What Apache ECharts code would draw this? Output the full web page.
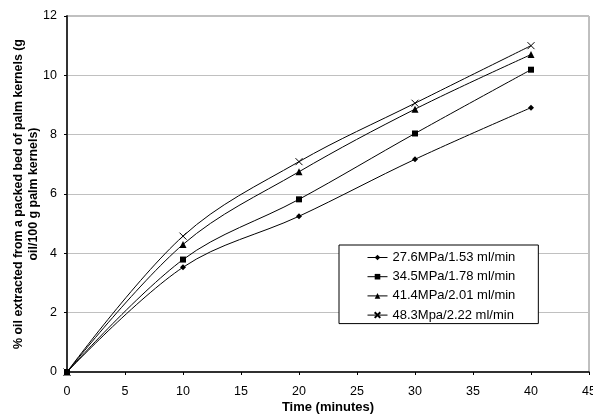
<!DOCTYPE html>
<html>
<head>
<meta charset="utf-8">
<script src="https://cdn.jsdelivr.net/npm/echarts@6/dist/echarts.min.js"></script>
<style>
html,body{margin:0;padding:0;background:#fff;}
#c{width:593px;height:414px;}
</style>
</head>
<body>
<div id="c"></div>
<script>
var times = [0, 10, 20, 30, 40];
var seriesNames = ['27.6MPa/1.53 ml/min', '34.5MPa/1.78 ml/min', '41.4MPa/2.01 ml/min', '48.3Mpa/2.22 ml/min'];
var s1 = [0, 3.53, 5.25, 7.17, 8.91];
var s2 = [0, 3.79, 5.82, 8.04, 10.19];
var s3 = [0, 4.30, 6.75, 8.86, 10.70];
var s4 = [0, 4.58, 7.09, 9.06, 11.00];
var xTicks = [0, 5, 10, 15, 20, 25, 30, 35, 40, 45];
var yTicks = [0, 2, 4, 6, 8, 10, 12];

var FONT = '"Liberation Sans", Arial, sans-serif';
function pairs(arr){ return times.map(function(t,i){ return [t, arr[i]]; }); }

var symbols = [
  {symbol:'diamond', size:6, fill:'#000'},
  {symbol:'rect', size:6, fill:'#000'},
  {symbol:'triangle', size:7, fill:'#000'},
  {symbol:'path://M0,0L10,10M10,0L0,10', size:7, fill:'none'}
];
var data = [s1, s2, s3, s4];

var series = data.map(function(d, i){
  var sy = symbols[i];
  return {
    name: seriesNames[i],
    type: 'line',
    smooth: 0.35,
    data: pairs(d),
    symbol: sy.symbol,
    symbolSize: sy.size,
    showSymbol: true,
    lineStyle: {color:'#000', width:1},
    itemStyle: {color: sy.fill === 'none' ? 'rgba(0,0,0,0)' : '#000', borderColor:'#000', borderWidth: sy.fill === 'none' ? 1 : 0},
    emphasis: {disabled: true},
    animation: false
  };
});

var chart = echarts.init(document.getElementById('c'), null, {renderer:'canvas'});
chart.setOption({
  animation: false,
  textStyle: {fontFamily: FONT},
  grid: {left: 67, right: 4, top: 16, bottom: 42, show: true, borderColor: '#808080', borderWidth: 1,
    containLabel: false, outerBoundsMode: 'none'},
  legend: {
    orient: 'vertical',
    left: 339, top: 245,
    padding: [6, 23, 2, 28],
    itemWidth: 20, itemHeight: 7, itemGap: 6.2,
    backgroundColor: '#fff',
    borderColor: '#000', borderWidth: 1,
    lineStyle: {width: 1},
    textStyle: {fontFamily: FONT, fontSize: 13, color: '#000'},
    data: seriesNames
  },
  xAxis: {
    type: 'value', min: 0, max: 45, interval: 5,
    name: 'Time (minutes)', nameLocation: 'middle', nameGap: 29, nameMoveOverlap: false,
    nameTextStyle: {fontFamily: FONT, fontSize: 13, fontWeight: 'bold', color: '#000'},
    axisLine: {show: true, lineStyle: {color: '#000', width: 1.5}},
    axisTick: {show: true, inside: false, length: 3, lineStyle: {color: '#000'}},
    axisLabel: {fontFamily: FONT, fontSize: 12.5, color: '#000', margin: 13,
      formatter: function(v){ return xTicks.indexOf(v) >= 0 ? String(v) : ''; }},
    splitLine: {show: false}
  },
  yAxis: {
    type: 'value', min: 0, max: 12, interval: 2,
    name: '% oil extracted from a packed bed of palm kernels (g\noil/100 g palm kernels)',
    nameLocation: 'middle', nameGap: 26, nameRotate: 90, nameMoveOverlap: false,
    nameTextStyle: {fontFamily: FONT, fontSize: 12.4, fontWeight: 'bold', color: '#000', lineHeight: 15, align: 'center'},
    axisLine: {show: true, lineStyle: {color: '#333', width: 2}},
    axisTick: {show: true, inside: false, length: 3, lineStyle: {color: '#000'}},
    axisLabel: {fontFamily: FONT, fontSize: 12.5, color: '#000', margin: 10,
      formatter: function(v){ return yTicks.indexOf(v) >= 0 ? String(v) : ''; }},
    splitLine: {show: true, lineStyle: {color: '#c0c0c0', width: 1}}
  },
  series: series
});
</script>
</body>
</html>
